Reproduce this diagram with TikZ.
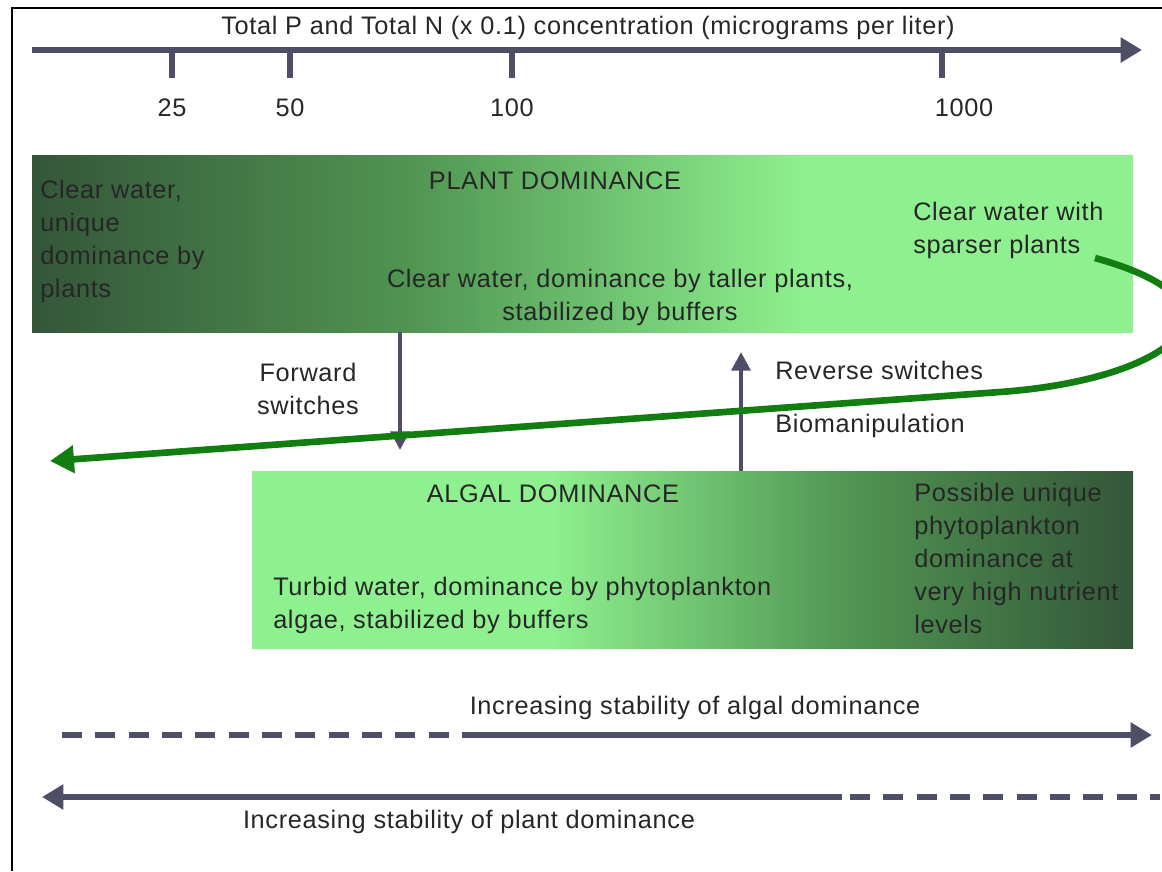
\documentclass[tikz,border=0pt]{standalone}
\usepackage{fontspec}
\setmainfont{Liberation Sans}[LetterSpace=2.6]
\usetikzlibrary{arrows.meta}

\definecolor{axisgray}{RGB}{78,78,102}
\definecolor{darkleaf}{RGB}{52,86,56}
\definecolor{midleaf}{RGB}{80,148,82}
\definecolor{lightleaf}{RGB}{142,240,142}
\definecolor{curvegreen}{RGB}{18,126,18}

\pgfdeclarehorizontalshading{plantshade}{100bp}{color(0bp)=(darkleaf); color(25bp)=(darkleaf); color(42bp)=(midleaf); color(60bp)=(lightleaf); color(100bp)=(lightleaf)}
\pgfdeclarehorizontalshading{algalshade}{100bp}{color(0bp)=(lightleaf); color(25bp)=(lightleaf); color(42bp)=(lightleaf); color(59bp)=(midleaf); color(75bp)=(darkleaf); color(100bp)=(darkleaf)}

\begin{document}
\begin{tikzpicture}[x=0.75pt,y=-0.75pt,
  txt/.style={font=\fontsize{19}{24.75}\selectfont, inner sep=0pt, text=black!85},
  axisline/.style={draw=axisgray, line width=4pt},
  bigtip/.style={-{Triangle[length=16pt,width=18pt]}},
  switcharrow/.style={draw=axisgray, line width=3.2pt, -{Triangle[length=14pt,width=14pt]}},
  greencurve/.style={draw=curvegreen, line width=5pt, -{Triangle[length=18pt,width=20pt]}},
  dashpart/.style={dash pattern=on 15pt off 10pt}]

  \useasboundingbox (0,0) rectangle (1162,871);
  \draw[line width=1pt] (12,871) -- (12,8) -- (1162,8);

  % concentration axis
  \coordinate (axisstart) at (32,50);
  \coordinate (axisend) at (1142,50);
  \draw[axisline,bigtip] (axisstart) -- (axisend);
  \node[txt] (title) at (588,28) {Total P and Total N (x 0.1) concentration (micrograms per liter)};
  \foreach \px/\val/\shift in {172/25/0,290/50/0,512/100/0,942/1000/22}{
    \coordinate (tick\val) at (\px,50);
    \draw[axisline] (tick\val) -- ++(0,28);
    \node[txt] (lab\val) at (\px+\shift,108) {\val};
  }

  % plant box
  \coordinate (plantNW) at (32,155);
  \coordinate (plantSE) at (1133,332);
  \shade[shading=plantshade] (plantNW) rectangle (plantSE);
  \node[txt,align=left,anchor=north west] (uniqueplant) at (40,180) {Clear water,\\unique\\dominance by\\plants};
  \node[txt] (planthead) at (555,181) {PLANT DOMINANCE};
  \node[txt,align=center] (tallplants) at (620,297) {Clear water, dominance by taller plants,\\stabilized by buffers};
  \node[txt,align=left,anchor=north west] (sparse) at (913,202) {Clear water with\\sparser plants};

  % algal box
  \coordinate (algalNW) at (252,471);
  \coordinate (algalSE) at (1133,648);
  \shade[shading=algalshade] (algalNW) rectangle (algalSE);
  \node[txt] (algalhead) at (553,494) {ALGAL DOMINANCE};
  \node[txt,align=left,anchor=west] (turbid) at (273,605) {Turbid water, dominance by phytoplankton\\algae, stabilized by buffers};
  \node[txt,align=left,anchor=north west] (possible) at (914,483) {Possible unique\\phytoplankton\\dominance at\\very high nutrient\\levels};

  % switches
  \coordinate (fwdtop) at (400,332);
  \coordinate (fwdtip) at (400,450);
  \draw[switcharrow] (fwdtop) -- (fwdtip);
  \node[txt,align=center] (fwdlabel) at (308,389) {Forward\\switches};
  \coordinate (revbase) at (741,471);
  \coordinate (revtip) at (741,352);
  \draw[switcharrow] (revbase) -- (revtip);
  \node[txt,anchor=west] (revlabel) at (775,370) {Reverse switches};
  \node[txt,anchor=west] (biomanip) at (775,426) {Biomanipulation};

  % green loop
  \coordinate (curvestart) at (1095,258);
  \coordinate (curvebend) at (1000,392);
  \coordinate (curveend) at (50,461);
  \draw[greencurve] (curvestart) .. controls (1265,305) and (1170,380) .. (curvebend) -- (curveend);

  % stability arrows
  \coordinate (algdash) at (62,735);
  \coordinate (algsolid) at (468,735);
  \coordinate (algtip) at (1152,735);
  \draw[axisline,dashpart] (algdash) -- (algsolid);
  \draw[axisline,bigtip] (algsolid) -- (algtip);
  \node[txt] (algstab) at (695,708) {Increasing stability of algal dominance};
  \coordinate (planttip) at (42,797);
  \coordinate (plantsolid) at (842,797);
  \coordinate (plantdash) at (1160,797);
  \draw[axisline,bigtip] (plantsolid) -- (planttip);
  \draw[axisline,dashpart] (plantsolid) ++(8,0) -- (plantdash);
  \node[txt] (plantstab) at (469,822) {Increasing stability of plant dominance};
\end{tikzpicture}
\end{document}
